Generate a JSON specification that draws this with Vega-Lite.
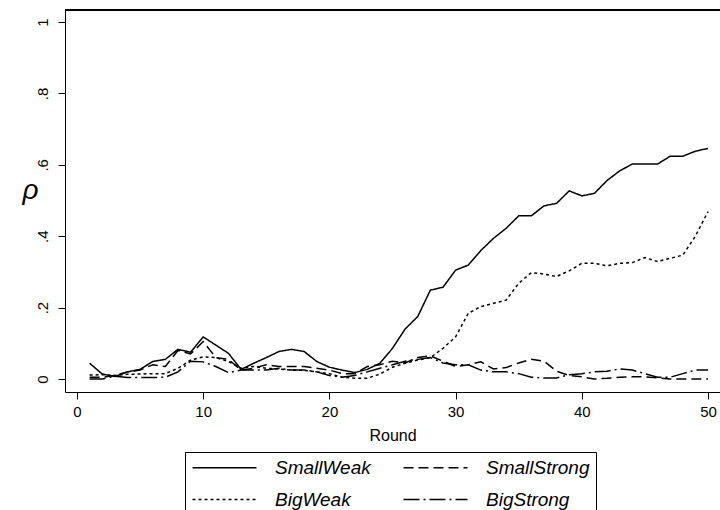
{
"$schema":"https://vega.github.io/schema/vega-lite/v6.json",
"width":655,"height":382,
"autosize":"none",
"padding":{"left":65,"top":10,"right":0,"bottom":118},
"config":{"font":"Liberation Sans","view":{"stroke":null},"background":"white"},
"data":{"values":[
{"r":1,"s":"SmallWeak","v":0.044},{"r":2,"s":"SmallWeak","v":0.014},{"r":3,"s":"SmallWeak","v":0.007},{"r":4,"s":"SmallWeak","v":0.02},{"r":5,"s":"SmallWeak","v":0.027},{"r":6,"s":"SmallWeak","v":0.049},{"r":7,"s":"SmallWeak","v":0.055},{"r":8,"s":"SmallWeak","v":0.083},{"r":9,"s":"SmallWeak","v":0.075},{"r":10,"s":"SmallWeak","v":0.118},
{"r":11,"s":"SmallWeak","v":0.095},{"r":12,"s":"SmallWeak","v":0.072},{"r":13,"s":"SmallWeak","v":0.027},{"r":14,"s":"SmallWeak","v":0.044},{"r":15,"s":"SmallWeak","v":0.06},{"r":16,"s":"SmallWeak","v":0.077},{"r":17,"s":"SmallWeak","v":0.083},{"r":18,"s":"SmallWeak","v":0.077},{"r":19,"s":"SmallWeak","v":0.049},{"r":20,"s":"SmallWeak","v":0.033},
{"r":21,"s":"SmallWeak","v":0.025},{"r":22,"s":"SmallWeak","v":0.018},{"r":23,"s":"SmallWeak","v":0.027},{"r":24,"s":"SmallWeak","v":0.044},{"r":25,"s":"SmallWeak","v":0.086},{"r":26,"s":"SmallWeak","v":0.14},{"r":27,"s":"SmallWeak","v":0.175},{"r":28,"s":"SmallWeak","v":0.249},{"r":29,"s":"SmallWeak","v":0.257},{"r":30,"s":"SmallWeak","v":0.305},
{"r":31,"s":"SmallWeak","v":0.319},{"r":32,"s":"SmallWeak","v":0.36},{"r":33,"s":"SmallWeak","v":0.394},{"r":34,"s":"SmallWeak","v":0.422},{"r":35,"s":"SmallWeak","v":0.457},{"r":36,"s":"SmallWeak","v":0.457},{"r":37,"s":"SmallWeak","v":0.485},{"r":38,"s":"SmallWeak","v":0.492},{"r":39,"s":"SmallWeak","v":0.527},{"r":40,"s":"SmallWeak","v":0.513},
{"r":41,"s":"SmallWeak","v":0.52},{"r":42,"s":"SmallWeak","v":0.556},{"r":43,"s":"SmallWeak","v":0.583},{"r":44,"s":"SmallWeak","v":0.602},{"r":45,"s":"SmallWeak","v":0.602},{"r":46,"s":"SmallWeak","v":0.602},{"r":47,"s":"SmallWeak","v":0.624},{"r":48,"s":"SmallWeak","v":0.624},{"r":49,"s":"SmallWeak","v":0.638},{"r":50,"s":"SmallWeak","v":0.646},
{"r":1,"s":"SmallStrong","v":0.005},{"r":2,"s":"SmallStrong","v":0.005},{"r":3,"s":"SmallStrong","v":0.01},{"r":4,"s":"SmallStrong","v":0.02},{"r":5,"s":"SmallStrong","v":0.025},{"r":6,"s":"SmallStrong","v":0.04},{"r":7,"s":"SmallStrong","v":0.035},{"r":8,"s":"SmallStrong","v":0.08},{"r":9,"s":"SmallStrong","v":0.07},{"r":10,"s":"SmallStrong","v":0.105},
{"r":11,"s":"SmallStrong","v":0.06},{"r":12,"s":"SmallStrong","v":0.055},{"r":13,"s":"SmallStrong","v":0.025},{"r":14,"s":"SmallStrong","v":0.03},{"r":15,"s":"SmallStrong","v":0.04},{"r":16,"s":"SmallStrong","v":0.035},{"r":17,"s":"SmallStrong","v":0.035},{"r":18,"s":"SmallStrong","v":0.035},{"r":19,"s":"SmallStrong","v":0.03},{"r":20,"s":"SmallStrong","v":0.025},
{"r":21,"s":"SmallStrong","v":0.015},{"r":22,"s":"SmallStrong","v":0.015},{"r":23,"s":"SmallStrong","v":0.035},{"r":24,"s":"SmallStrong","v":0.04},{"r":25,"s":"SmallStrong","v":0.05},{"r":26,"s":"SmallStrong","v":0.045},{"r":27,"s":"SmallStrong","v":0.06},{"r":28,"s":"SmallStrong","v":0.065},{"r":29,"s":"SmallStrong","v":0.05},{"r":30,"s":"SmallStrong","v":0.035},
{"r":31,"s":"SmallStrong","v":0.04},{"r":32,"s":"SmallStrong","v":0.048},{"r":33,"s":"SmallStrong","v":0.028},{"r":34,"s":"SmallStrong","v":0.032},{"r":35,"s":"SmallStrong","v":0.045},{"r":36,"s":"SmallStrong","v":0.055},{"r":37,"s":"SmallStrong","v":0.05},{"r":38,"s":"SmallStrong","v":0.022},{"r":39,"s":"SmallStrong","v":0.01},{"r":40,"s":"SmallStrong","v":0.006},
{"r":41,"s":"SmallStrong","v":0.0},{"r":42,"s":"SmallStrong","v":0.002},{"r":43,"s":"SmallStrong","v":0.005},{"r":44,"s":"SmallStrong","v":0.006},{"r":45,"s":"SmallStrong","v":0.006},{"r":46,"s":"SmallStrong","v":0.003},{"r":47,"s":"SmallStrong","v":0.0},{"r":48,"s":"SmallStrong","v":0.0},{"r":49,"s":"SmallStrong","v":0.0},{"r":50,"s":"SmallStrong","v":0.0},
{"r":1,"s":"BigWeak","v":0.011},{"r":2,"s":"BigWeak","v":0.012},{"r":3,"s":"BigWeak","v":0.01},{"r":4,"s":"BigWeak","v":0.013},{"r":5,"s":"BigWeak","v":0.014},{"r":6,"s":"BigWeak","v":0.015},{"r":7,"s":"BigWeak","v":0.015},{"r":8,"s":"BigWeak","v":0.03},{"r":9,"s":"BigWeak","v":0.053},{"r":10,"s":"BigWeak","v":0.062},
{"r":11,"s":"BigWeak","v":0.06},{"r":12,"s":"BigWeak","v":0.049},{"r":13,"s":"BigWeak","v":0.03},{"r":14,"s":"BigWeak","v":0.035},{"r":15,"s":"BigWeak","v":0.03},{"r":16,"s":"BigWeak","v":0.028},{"r":17,"s":"BigWeak","v":0.025},{"r":18,"s":"BigWeak","v":0.024},{"r":19,"s":"BigWeak","v":0.02},{"r":20,"s":"BigWeak","v":0.015},
{"r":21,"s":"BigWeak","v":0.005},{"r":22,"s":"BigWeak","v":0.002},{"r":23,"s":"BigWeak","v":0.002},{"r":24,"s":"BigWeak","v":0.014},{"r":25,"s":"BigWeak","v":0.033},{"r":26,"s":"BigWeak","v":0.044},{"r":27,"s":"BigWeak","v":0.053},{"r":28,"s":"BigWeak","v":0.06},{"r":29,"s":"BigWeak","v":0.086},{"r":30,"s":"BigWeak","v":0.118},
{"r":31,"s":"BigWeak","v":0.184},{"r":32,"s":"BigWeak","v":0.203},{"r":33,"s":"BigWeak","v":0.212},{"r":34,"s":"BigWeak","v":0.221},{"r":35,"s":"BigWeak","v":0.268},{"r":36,"s":"BigWeak","v":0.298},{"r":37,"s":"BigWeak","v":0.294},{"r":38,"s":"BigWeak","v":0.287},{"r":39,"s":"BigWeak","v":0.303},{"r":40,"s":"BigWeak","v":0.324},
{"r":41,"s":"BigWeak","v":0.324},{"r":42,"s":"BigWeak","v":0.317},{"r":43,"s":"BigWeak","v":0.324},{"r":44,"s":"BigWeak","v":0.326},{"r":45,"s":"BigWeak","v":0.34},{"r":46,"s":"BigWeak","v":0.329},{"r":47,"s":"BigWeak","v":0.338},{"r":48,"s":"BigWeak","v":0.347},{"r":49,"s":"BigWeak","v":0.4},{"r":50,"s":"BigWeak","v":0.469},
{"r":1,"s":"BigStrong","v":0.0},{"r":2,"s":"BigStrong","v":0.0},{"r":3,"s":"BigStrong","v":0.008},{"r":4,"s":"BigStrong","v":0.004},{"r":5,"s":"BigStrong","v":0.004},{"r":6,"s":"BigStrong","v":0.004},{"r":7,"s":"BigStrong","v":0.005},{"r":8,"s":"BigStrong","v":0.02},{"r":9,"s":"BigStrong","v":0.05},{"r":10,"s":"BigStrong","v":0.048},
{"r":11,"s":"BigStrong","v":0.035},{"r":12,"s":"BigStrong","v":0.018},{"r":13,"s":"BigStrong","v":0.025},{"r":14,"s":"BigStrong","v":0.025},{"r":15,"s":"BigStrong","v":0.025},{"r":16,"s":"BigStrong","v":0.03},{"r":17,"s":"BigStrong","v":0.025},{"r":18,"s":"BigStrong","v":0.025},{"r":19,"s":"BigStrong","v":0.02},{"r":20,"s":"BigStrong","v":0.01},
{"r":21,"s":"BigStrong","v":0.005},{"r":22,"s":"BigStrong","v":0.01},{"r":23,"s":"BigStrong","v":0.02},{"r":24,"s":"BigStrong","v":0.03},{"r":25,"s":"BigStrong","v":0.04},{"r":26,"s":"BigStrong","v":0.05},{"r":27,"s":"BigStrong","v":0.055},{"r":28,"s":"BigStrong","v":0.06},{"r":29,"s":"BigStrong","v":0.045},{"r":30,"s":"BigStrong","v":0.04},
{"r":31,"s":"BigStrong","v":0.04},{"r":32,"s":"BigStrong","v":0.025},{"r":33,"s":"BigStrong","v":0.02},{"r":34,"s":"BigStrong","v":0.02},{"r":35,"s":"BigStrong","v":0.015},{"r":36,"s":"BigStrong","v":0.005},{"r":37,"s":"BigStrong","v":0.003},{"r":38,"s":"BigStrong","v":0.003},{"r":39,"s":"BigStrong","v":0.012},{"r":40,"s":"BigStrong","v":0.015},
{"r":41,"s":"BigStrong","v":0.02},{"r":42,"s":"BigStrong","v":0.022},{"r":43,"s":"BigStrong","v":0.028},{"r":44,"s":"BigStrong","v":0.025},{"r":45,"s":"BigStrong","v":0.015},{"r":46,"s":"BigStrong","v":0.005},{"r":47,"s":"BigStrong","v":0.005},{"r":48,"s":"BigStrong","v":0.015},{"r":49,"s":"BigStrong","v":0.025},{"r":50,"s":"BigStrong","v":0.025}
]},
"layer":[
{"mark":{"type":"line","strokeWidth":1.5,"color":"black"},
 "encoding":{
  "x":{"field":"r","type":"quantitative","scale":{"domain":[-0.951,50.95],"nice":false,"zero":false},
   "axis":{"values":[0,10,20,30,40,50],"title":"Round","labelFontSize":15,"titleFontSize":16,"titleFontWeight":"normal","tickSize":7,"labelPadding":5,"titlePadding":8,"grid":false,"domainColor":"black","tickColor":"black","labelColor":"black","titleColor":"black","labelFlush":false}},
  "y":{"field":"v","type":"quantitative","scale":{"domain":[-0.0364,1.0336],"nice":false,"zero":false},
   "axis":{"values":[0,0.2,0.4,0.6,0.8,1],"labelExpr":"datum.value == 0 ? '0' : datum.value == 1 ? '1' : replace(format(datum.value, '.1f'), '0.', '.')","labelAngle":-90,"labelAlign":"center","labelBaseline":"alphabetic","labelPadding":11,"labelFontSize":15,"tickSize":7,"grid":false,"domainColor":"black","tickColor":"black","labelColor":"black","labelFlush":false,"title":"ρ","titleAngle":0,"titleFontStyle":"italic","titleFontWeight":"normal","titleFontSize":28,"titleColor":"black","titleAlign":"center","titleBaseline":"middle","titleX":-35,"titleY":180}},
  "strokeDash":{"field":"s","type":"nominal","scale":{"domain":["SmallWeak","SmallStrong","BigWeak","BigStrong"],"range":[[1,0],[10,5],[3,3],[16,4,2,4]]},
   "legend":{"orient":"none","legendX":120,"legendY":442,"direction":"horizontal","columns":2,"title":null,"strokeColor":"black","fillColor":"white","padding":6,"labelFontSize":19,"labelFontStyle":"italic","labelColor":"black","labelOffset":65,"symbolType":"M-2,0H14","symbolSize":64,"symbolStrokeWidth":1.5,"symbolStrokeColor":"black","rowPadding":12,"columnPadding":29,"cornerRadius":0,"labelLimit":300}}
 }},
{"mark":{"type":"rule","color":"black","strokeWidth":1},"encoding":{"y":{"datum":1.0336}}}
]
}
